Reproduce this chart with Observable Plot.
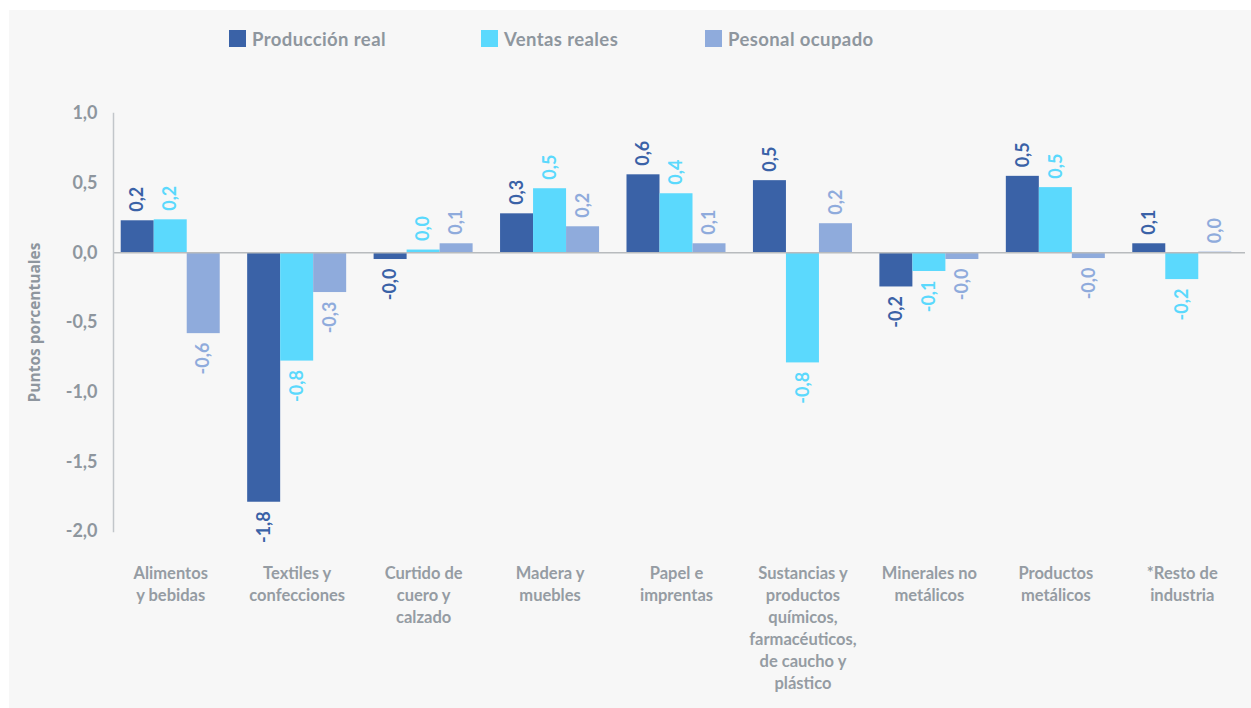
<!DOCTYPE html>
<html><head><meta charset="utf-8">
<script src="https://cdn.jsdelivr.net/npm/d3@7"></script>
<script src="https://cdn.jsdelivr.net/npm/@observablehq/plot@0.6"></script>
<style>
html,body{margin:0;padding:0;background:#fff;width:1251px;height:708px;overflow:hidden;font-family:Lato,"Noto Sans",sans-serif;}
#panel{position:absolute;left:9px;top:10px;width:1242px;height:698px;background:#f7f7f7;}
#legend{position:relative;height:60px;width:1251px;}
.item{position:absolute;top:30px;display:flex;align-items:center;height:17px;font-weight:700;font-size:18.5px;letter-spacing:0.4px;color:#8e969e;white-space:nowrap;}
.sw{width:17px;height:17px;margin-right:6px;flex:none;}
#chart{position:relative;}
</style></head>
<body><div id="panel"></div><div id="legend"></div><div id="chart"></div>
<script>
const categories = [
  "Alimentos\ny bebidas",
  "Textiles y\nconfecciones",
  "Curtido de\ncuero y\ncalzado",
  "Madera y\nmuebles",
  "Papel e\nimprentas",
  "Sustancias y\nproductos\nquímicos,\nfarmacéuticos,\nde caucho y\nplástico",
  "Minerales no\nmetálicos",
  "Productos\nmetálicos",
  "*Resto de\nindustria"
];
const series = ["Producción real", "Ventas reales", "Pesonal ocupado"];
const colors = ["#3a62a7", "#5bd9fd", "#8fabdc"];
const produccion = [0.23, -1.79, -0.048, 0.28, 0.56, 0.518, -0.245, 0.549, 0.065];
const ventas = [0.237, -0.777, 0.02, 0.46, 0.424, -0.79, -0.134, 0.468, -0.192];
const personal = [-0.58, -0.285, 0.065, 0.187, 0.065, 0.209, -0.048, -0.041, 0.005];
const yTicks = [1, 0.5, 0, -0.5, -1, -1.5, -2];

const seriesValues = [produccion, ventas, personal];
const data = categories.flatMap((c, j) => seriesValues.map((arr, i) => ({cat: c, i, series: series[i], value: arr[j]})));
const fmt = v => v.toFixed(1).replace(".", ",");

// legend
const legendLeft = [229, 481, 705];
const legend = document.getElementById("legend");
series.forEach((s, i) => {
  const it = document.createElement("div");
  it.className = "item";
  it.style.left = legendLeft[i] + "px";
  it.innerHTML = `<span class="sw" style="background:${colors[i]}"></span><span>${s}</span>`;
  legend.appendChild(it);
});

const pi = 0.217, po = 0.1085;
const xRange = [107, 1245];
const step = (xRange[1] - xRange[0]) / (categories.length - pi + 2 * po);
const bw = step * (1 - pi);
const sub = bw / 3;

const textCol = "#8e969e";
const chart = Plot.plot({
  width: 1251,
  height: 648,
  marginLeft: 113,
  marginRight: 6,
  marginTop: 53,
  marginBottom: 177,
  style: {background: "transparent", fontFamily: "Lato, 'Noto Sans', sans-serif"},
  x: {domain: categories, range: xRange, paddingInner: pi, paddingOuter: po, round: false},
  y: {domain: [-2, 1]},
  marks: [
    ...series.map((s, i) => Plot.barY(data.filter(d => d.i === i), {
      x: "cat", y: "value", fill: colors[i], insetLeft: i * sub, insetRight: (2 - i) * sub
    })),
    Plot.ruleY([0], {stroke: "#b8bbbe", strokeWidth: 1.5}),
    ...series.map((s, i) => Plot.text(data.filter(d => d.i === i && d.value >= 0), {
      x: "cat", y: "value", text: d => fmt(d.value), rotate: -90, textAnchor: "start", lineAnchor: "middle",
      dx: (i - 1) * sub, dy: -9, fill: colors[i], fontWeight: 700, fontSize: 18
    })),
    ...series.map((s, i) => Plot.text(data.filter(d => d.i === i && d.value < 0), {
      x: "cat", y: "value", text: d => fmt(d.value), rotate: -90, textAnchor: "end", lineAnchor: "middle",
      dx: (i - 1) * sub, dy: 9, fill: colors[i], fontWeight: 700, fontSize: 18
    })),
    Plot.frame({anchor: "left", stroke: "#c2c6ca", strokeWidth: 1.5}),
    Plot.axisY({ticks: yTicks, tickFormat: fmt, tickSize: 0, tickPadding: 16, fontSize: 18, fontWeight: 700, fill: textCol, label: null}),
    Plot.axisX({tickSize: 0, tickPadding: 32, fontSize: 16.5, lineHeight: 1.33, fill: "#959ca3", fontWeight: 700, label: null}),
    Plot.text(["Puntos porcentuales"], {frameAnchor: "left", text: d => d, rotate: -90, dx: -78, textAnchor: "middle", lineAnchor: "middle", fill: textCol, fontSize: 15.5, fontWeight: 700, fontFamily: "'Open Sans', sans-serif"})
  ]
});
document.getElementById("chart").appendChild(chart);
</script>
</body></html>
